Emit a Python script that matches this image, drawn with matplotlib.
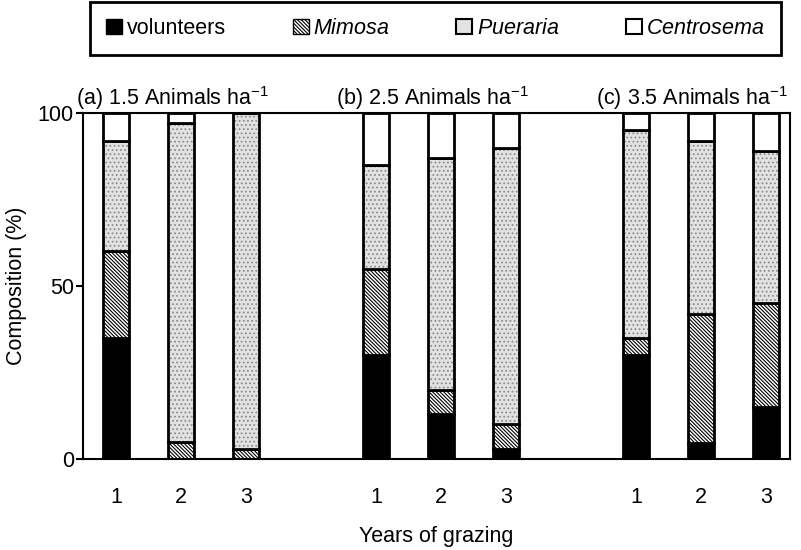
import matplotlib
matplotlib.use("Agg")
import matplotlib.pyplot as plt
from matplotlib.patches import Patch
from matplotlib.transforms import blended_transform_factory

plt.rcParams['font.family'] = ['Liberation Sans', 'DejaVu Sans']
plt.rcParams['mathtext.fontset'] = 'custom'
plt.rcParams['mathtext.rm'] = 'Liberation Sans'
plt.rcParams['mathtext.it'] = 'Liberation Sans:italic'
plt.rcParams['hatch.linewidth'] = 0.8

# Stocking-rate panels and grazing years
panels = ['(a) 1.5', '(b) 2.5', '(c) 3.5']
years = ['1', '2', '3']

# Botanical composition (%) for each panel x year, in panel order
volunteers = [35, 0, 0, 30, 13, 3, 30, 4.5, 15]
mimosa = [25, 5, 3, 25, 7, 7, 5, 37.5, 30]
pueraria = [32, 92, 97, 30, 67, 80, 60, 50, 44]
centrosema = [8, 3, 0, 15, 13, 10, 5, 8, 11]

fig = plt.figure(figsize=(8.01, 5.50), dpi=100)
ax = fig.add_axes([83 / 801, 1 - 459 / 550, (790 - 83) / 801, (459 - 113) / 550])

pos = [g * 4 + i for g in range(len(panels)) for i in range(len(years))]
w = 0.40
lw = 2.0
fs = 15.5
mim_hatch = '\\' * 9

bottom = [0.0] * len(pos)
# volunteers: solid black
ax.bar(pos, volunteers, w, bottom=bottom, color='black', edgecolor='black', linewidth=lw)
bottom = [b + v for b, v in zip(bottom, volunteers)]
# Mimosa: dense diagonal hatch
ax.bar(pos, mimosa, w, bottom=bottom, facecolor='white', edgecolor='black',
       hatch=mim_hatch, linewidth=lw)
bottom = [b + v for b, v in zip(bottom, mimosa)]
# Pueraria: light grey stipple, then outline on top
ax.bar(pos, pueraria, w, bottom=bottom, facecolor='#e2e2e2', edgecolor='#8c8c8c',
       hatch='....', linewidth=0)
ax.bar(pos, pueraria, w, bottom=bottom, fill=False, edgecolor='black', linewidth=lw)
bottom = [b + v for b, v in zip(bottom, pueraria)]
# Centrosema: open white
ax.bar(pos, centrosema, w, bottom=bottom, facecolor='white', edgecolor='black', linewidth=lw)

ax.set_xlim(-0.508, 10.37)
ax.set_ylim(0, 100)
ax.set_yticks([0, 50, 100])
ax.set_xticks(pos)
ax.set_xticklabels(years * len(panels))
ax.tick_params(axis='x', length=0, pad=20, labelsize=fs)
ax.tick_params(axis='y', direction='out', length=5, width=1.5, pad=1.5, labelsize=fs)
for s in ax.spines.values():
    s.set_linewidth(1.5)

ax.set_ylabel('Composition (%)', fontsize=fs, labelpad=8)
ax.set_xlabel('Years of grazing', fontsize=fs, labelpad=13)

trans = blended_transform_factory(ax.transData, ax.transAxes)
for g, p in enumerate(panels):
    ax.text(g * 4 - 0.62, 1.004, p + ' Animals ha$^{-1}$', transform=trans,
            ha='left', va='bottom', fontsize=fs)

handles = [
    Patch(facecolor='black', edgecolor='black', linewidth=1),
    Patch(facecolor='white', edgecolor='black', hatch=mim_hatch, linewidth=1),
    Patch(facecolor='#e2e2e2', edgecolor='black', linewidth=1.5),
    Patch(facecolor='white', edgecolor='black', linewidth=1.5),
]
labels = ['volunteers', r'$\it{Mimosa}$', r'$\it{Pueraria}$', r'$\it{Centrosema}$']
leg = fig.legend(handles, labels, loc='center', ncol=4,
                 bbox_to_anchor=(0.5437, 1 - 28.5 / 550), fontsize=fs,
                 handlelength=0.75, handleheight=0.75, handletextpad=0.2,
                 columnspacing=3.1, fancybox=False, framealpha=1,
                 borderpad=0.75, borderaxespad=0)
leg.get_frame().set_edgecolor('black')
leg.get_frame().set_linewidth(2.0)

fig.savefig('out.png', dpi=100)
